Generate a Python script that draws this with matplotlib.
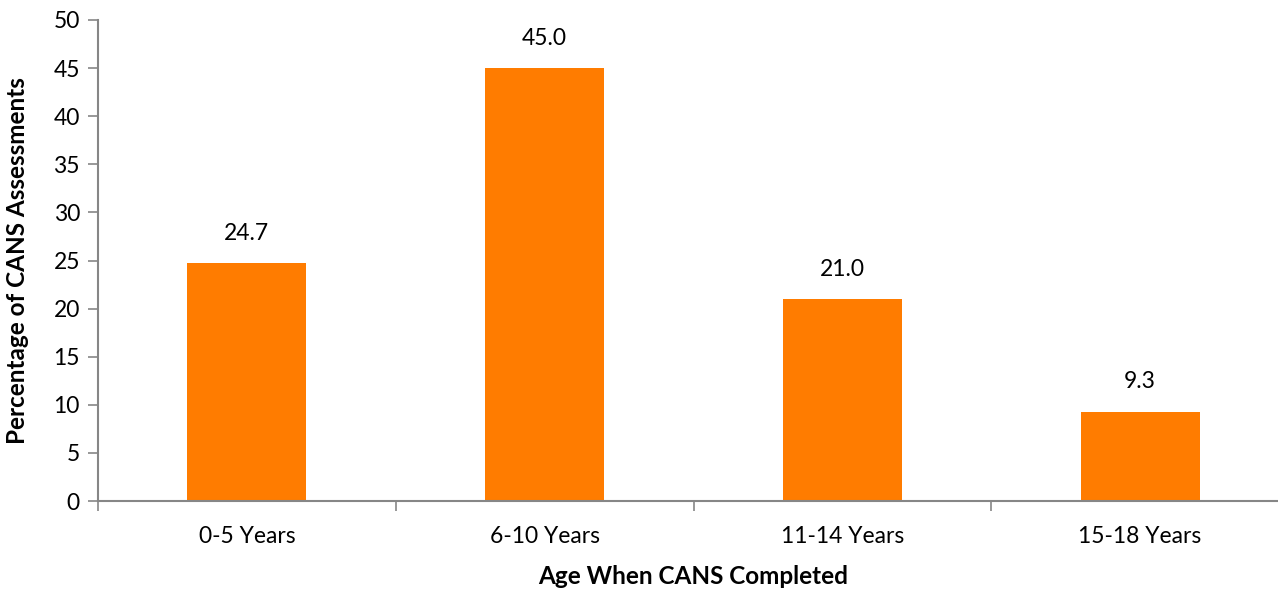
import matplotlib
matplotlib.use("Agg")
import matplotlib.pyplot as plt
import numpy as np

categories = ["0-5 Years", "6-10 Years", "11-14 Years", "15-18 Years"]
values = [24.7, 45.0, 21.0, 9.3]
yticks = [0, 5, 10, 15, 20, 25, 30, 35, 40, 45, 50]

plt.rcParams['font.family'] = ['Lato', 'DejaVu Sans']
fig = plt.figure(figsize=(12.78, 5.90), dpi=100)
ax_w = 1191
ax = fig.add_axes([98/1278, 1 - 501/590, ax_w/1278, 481/590])

x = np.arange(len(categories))
ax.bar(x, values, width=0.40, color="#FF7C00", zorder=2)
for xi, v in zip(x, values):
    ax.text(xi, v + 2.0, f"{v:.1f}", ha="center", va="bottom", fontsize=16.5, color="#000000")

ax.set_xlim(-0.5, len(categories) - 0.5)
ax.set_ylim(0, 50)
ax.set_yticks(yticks)
ax.set_yticklabels([str(t) for t in yticks], fontsize=16.5)
ax.set_xticks(x)
ax.set_xticklabels(categories, fontsize=16.5)
ax.tick_params(axis="x", length=0, pad=18)
ax.set_xticks(np.arange(len(categories) + 1) - 0.5, minor=True)
ax.tick_params(axis="x", which="minor", length=7, width=1.2, color="#868686", direction="out")
ax.tick_params(axis="y", length=7, width=1.2, color="#868686", direction="out", pad=6)

for s in ["top", "right"]:
    ax.spines[s].set_visible(False)
for s in ["left", "bottom"]:
    ax.spines[s].set_color("#868686")
    ax.spines[s].set_linewidth(1.5)

ax.set_ylabel("Percentage of CANS Assessments", fontsize=17.5, fontweight="bold")
ax.yaxis.set_label_coords((18 - 98) / ax_w, 0.5)
ax.set_xlabel("Age When CANS Completed", fontsize=17.5, fontweight="bold")
ax.xaxis.set_label_coords((693 - 98) / ax_w, -(577 - 501) / 481)
ax.xaxis.label.set_va("center")
ax.yaxis.label.set_va("center")

fig.savefig("out.png", dpi=100)
